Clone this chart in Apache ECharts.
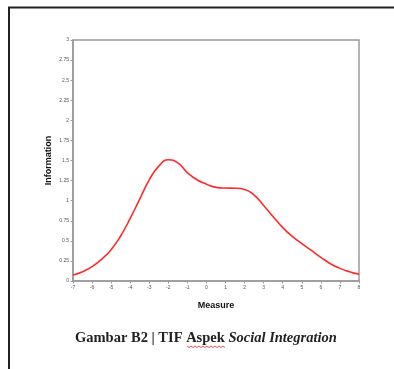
<!DOCTYPE html>
<html>
<head>
<meta charset="utf-8">
<script src="https://cdn.jsdelivr.net/npm/echarts@6/dist/echarts.min.js"></script>
<style>
  html, body { margin: 0; padding: 0; background: #ffffff; }
  #chart { width: 394px; height: 369px; }
</style>
</head>
<body>
<div id="chart"></div>
<script>
// Test information function, Social Integration aspect
const measure = [-7, -6.5, -6, -5.5, -5, -4.5, -4, -3.5, -3, -2.5, -2, -1.5, -1, -0.5,
                 0, 0.5, 1, 1.5, 2, 2.5, 3, 3.5, 4, 4.5, 5, 5.5, 6, 6.5, 7, 7.5, 8];
const information = [0.074, 0.116, 0.178, 0.27, 0.39, 0.56, 0.78, 1.02, 1.26, 1.43, 1.51, 1.47, 1.35, 1.26,
                     1.205, 1.165, 1.157, 1.155, 1.14, 1.07, 0.94, 0.80, 0.665, 0.555, 0.465, 0.38, 0.295, 0.215, 0.157, 0.115, 0.083];
const yTicks = ['0', '0.25', '0.5', '0.75', '1', '1.25', '1.5', '1.75', '2', '2.25', '2.5', '2.75', '3'];

const points = measure.map((m, i) => [m, information[i]]);

const chart = echarts.init(document.getElementById('chart'), null, { renderer: 'canvas' });

const axisGrey = '#9a9a9a';
const tickText = { color: '#555555', fontSize: 5, fontFamily: 'Liberation Sans, Arial, sans-serif' };

chart.setOption({
  animation: false,
  backgroundColor: '#ffffff',
  grid: {
    left: 73, right: 35, top: 40, bottom: 88,
    show: true, borderColor: axisGrey, borderWidth: 1.5, backgroundColor: 'transparent'
  },
  xAxis: {
    type: 'value', min: -7, max: 8, interval: 1,
    name: 'Measure', nameLocation: 'middle', nameGap: 20,
    nameTextStyle: { color: '#111111', fontSize: 9, fontWeight: 'bold', fontFamily: 'Liberation Sans, Arial, sans-serif' },
    axisLine: { onZero: false, lineStyle: { color: axisGrey, width: 1.5 } },
    axisTick: { show: true, length: 2.5, lineStyle: { color: axisGrey, width: 1 } },
    axisLabel: Object.assign({ margin: 4 }, tickText),
    splitLine: { show: false }
  },
  yAxis: {
    type: 'value', min: 0, max: 3, interval: 0.25,
    name: 'Information', nameLocation: 'middle', nameGap: 20, nameRotate: 90,
    nameMoveOverlap: false,
    nameTextStyle: { color: '#111111', fontSize: 9, fontWeight: 'bold', fontFamily: 'Liberation Sans, Arial, sans-serif' },
    axisLine: { show: true, onZero: false, lineStyle: { color: axisGrey, width: 1.5 } },
    axisTick: { show: true, length: 2.5, lineStyle: { color: axisGrey, width: 1 } },
    axisLabel: Object.assign({
      margin: 4,
      formatter: v => yTicks[Math.round(v / 0.25)]
    }, tickText),
    splitLine: { show: false }
  },
  series: [{
    type: 'line',
    data: points,
    smooth: 0.5,
    showSymbol: false,
    lineStyle: { color: '#ff2a2a', width: 1.6 }
  }],
  graphic: [
    // page frame: top rule and left rule
    { type: 'line', shape: { x1: 8, y1: 7.5, x2: 394, y2: 7.5 }, style: { stroke: '#222222', lineWidth: 2 } },
    { type: 'line', shape: { x1: 9, y1: 7, x2: 9, y2: 369 }, style: { stroke: '#222222', lineWidth: 2 } },
    // figure caption
    {
      type: 'text', left: 75, top: 331,
      style: {
        text: '{b|Gambar B2 | TIF Aspek }{i|Social Integration}',
        rich: {
          b: { fontFamily: 'Liberation Serif, Times New Roman, serif', fontWeight: 'bold', fontSize: 14.5, fill: '#222222' },
          i: { fontFamily: 'Liberation Serif, Times New Roman, serif', fontWeight: 'bold', fontStyle: 'italic', fontSize: 14.5, fill: '#222222' }
        }
      }
    },
    // spell-check squiggle under "Aspek"
    {
      type: 'polyline',
      shape: { points: [[187, 346], [189, 347.5], [191, 346], [193, 347.5], [195, 346], [197, 347.5], [199, 346], [201, 347.5], [203, 346], [205, 347.5], [207, 346], [209, 347.5], [211, 346], [213, 347.5], [215, 346], [217, 347.5], [219, 346], [221, 347.5], [223, 346], [225, 347.5]] },
      style: { stroke: '#e03030', lineWidth: 0.8, fill: null }
    }
  ]
});
</script>
</body>
</html>
